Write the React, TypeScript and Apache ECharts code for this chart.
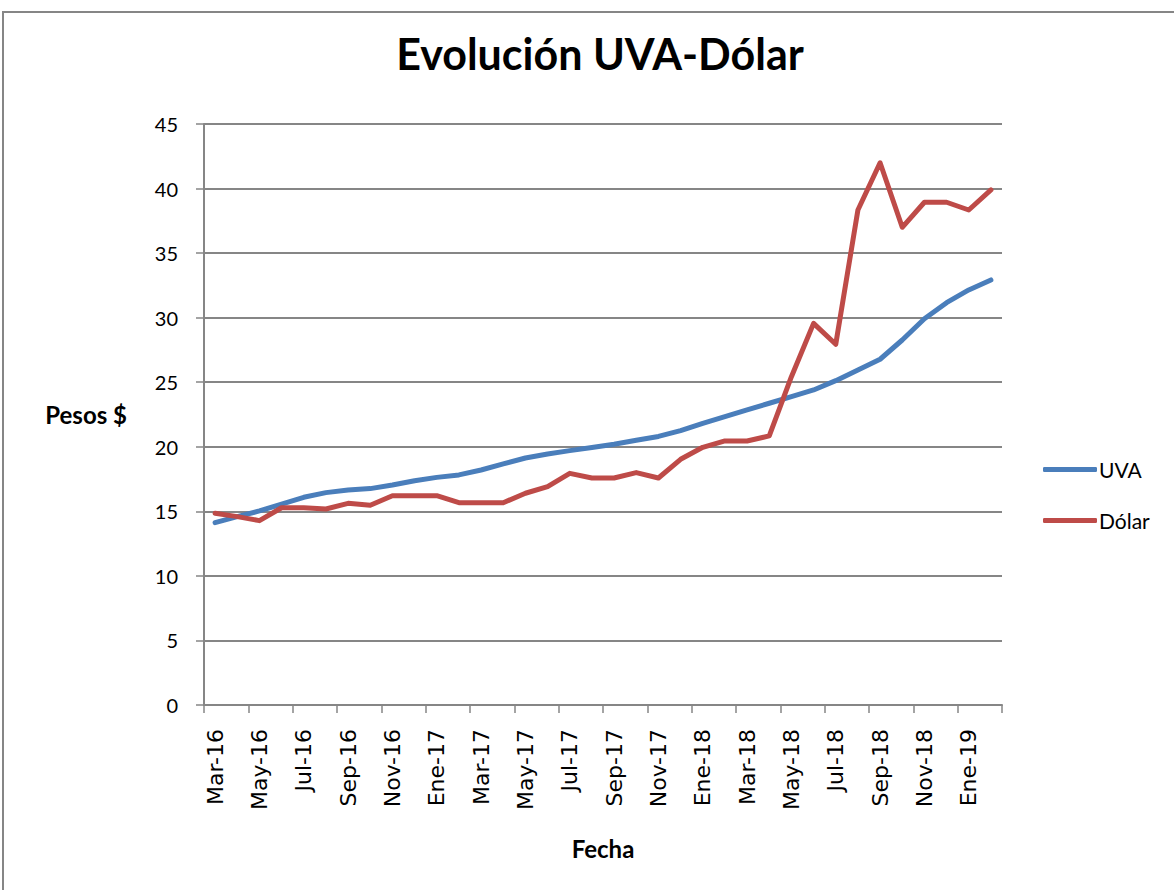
import React, { useEffect, useRef } from "react";
import * as echarts from "echarts";

const categories = [
  "Mar-16", "Abr-16", "May-16", "Jun-16", "Jul-16", "Ago-16", "Sep-16", "Oct-16", "Nov-16", "Dic-16",
  "Ene-17", "Feb-17", "Mar-17", "Abr-17", "May-17", "Jun-17", "Jul-17", "Ago-17", "Sep-17", "Oct-17",
  "Nov-17", "Dic-17", "Ene-18", "Feb-18", "Mar-18", "Abr-18", "May-18", "Jun-18", "Jul-18", "Ago-18",
  "Sep-18", "Oct-18", "Nov-18", "Dic-18", "Ene-19", "Feb-19",
];

const uva = [
  14.12, 14.59, 15.03, 15.55, 16.09, 16.45, 16.65, 16.76, 17.04, 17.37,
  17.63, 17.82, 18.2, 18.67, 19.13, 19.44, 19.7, 19.95, 20.2, 20.5,
  20.8, 21.25, 21.82, 22.33, 22.85, 23.37, 23.88, 24.4, 25.12, 25.95,
  26.78, 28.27, 29.92, 31.16, 32.15, 32.92,
];

const dolar = [
  14.85, 14.59, 14.28, 15.28, 15.28, 15.18, 15.62, 15.47, 16.21, 16.21,
  16.21, 15.67, 15.67, 15.67, 16.4, 16.91, 17.94, 17.58, 17.58, 18.0,
  17.58, 19.03, 19.96, 20.45, 20.45, 20.84, 25.43, 29.56, 27.94, 38.34,
  42.0, 37.0, 38.94, 38.94, 38.34, 39.89,
];

const yTicks = { min: 0, max: 45, interval: 5 };

const FONT = "Lato, 'Open Sans', sans-serif";
const XFONT = "'DejaVu Sans', sans-serif";
const AXIS_GRAY = "#868686";

export default function App() {
  const ref = useRef<HTMLDivElement>(null);

  useEffect(() => {
    document.body.style.margin = "0";
    if (!ref.current) return;
    const chart = echarts.init(ref.current, null, { renderer: "svg" });
    chart.setOption({
      animation: false,
      backgroundColor: "#ffffff",
      textStyle: { fontFamily: FONT },
      title: {
        text: "Evolución UVA-Dólar",
        left: 595,
        top: 27,
        textAlign: "center",
        textStyle: { fontFamily: FONT, fontSize: 43, fontWeight: "bold", color: "#000" },
      },
      graphic: [
        {
          type: "rect",
          shape: { x: 3, y: 12, width: 1200, height: 920 },
          style: { fill: "none", stroke: AXIS_GRAY, lineWidth: 2 },
          silent: true,
        },
      ],
      legend: {
        orient: "vertical",
        left: 1043,
        top: 459,
        padding: 0,
        itemWidth: 54,
        itemHeight: 5,
        itemGap: 30,
        icon: "roundRect",
        textStyle: { fontFamily: FONT, fontSize: 21, color: "#000", padding: [0, 0, 0, -3] },
        data: ["UVA", "Dólar"],
      },
      grid: { left: 204, right: 172, top: 124, bottom: 185, containLabel: false },
      xAxis: {
        type: "category",
        data: categories,
        boundaryGap: true,
        name: "Fecha",
        nameLocation: "middle",
        nameGap: 131,
        nameTextStyle: { fontFamily: FONT, fontSize: 24, fontWeight: "bold", color: "#000" },
        axisLine: { lineStyle: { color: AXIS_GRAY, width: 2 } },
        axisTick: { show: true, interval: 1, length: 8, lineStyle: { color: AXIS_GRAY, width: 1.5 } },
        axisLabel: {
          interval: 1,
          rotate: 90,
          margin: 24,
          fontFamily: XFONT,
          fontSize: 22,
          color: "#000",
        },
        splitLine: { show: false },
      },
      yAxis: {
        type: "value",
        min: yTicks.min,
        max: yTicks.max,
        interval: yTicks.interval,
        name: "Pesos $",
        nameLocation: "middle",
        nameRotate: 0,
        nameGap: 77,
        nameTextStyle: { fontFamily: FONT, fontSize: 24, fontWeight: "bold", color: "#000", align: "right" },
        axisLine: { show: true, lineStyle: { color: AXIS_GRAY, width: 2 } },
        axisTick: { show: true, length: 8, lineStyle: { color: AXIS_GRAY, width: 1.5 } },
        axisLabel: { margin: 26, fontFamily: FONT, fontSize: 20, color: "#000" },
        splitLine: { show: true, lineStyle: { color: AXIS_GRAY, width: 2 } },
      },
      series: [
        {
          name: "UVA",
          type: "line",
          data: uva,
          symbol: "none",
          lineStyle: { color: "#4A7EBB", width: 5, cap: "round", join: "round" },
          itemStyle: { color: "#4A7EBB" },
        },
        {
          name: "Dólar",
          type: "line",
          data: dolar,
          symbol: "none",
          lineStyle: { color: "#BE4B48", width: 5, cap: "round", join: "round" },
          itemStyle: { color: "#BE4B48" },
        },
      ],
    });
    return () => chart.dispose();
  }, []);

  return <div ref={ref} style={{ width: 1174, height: 890 }} />;
}
